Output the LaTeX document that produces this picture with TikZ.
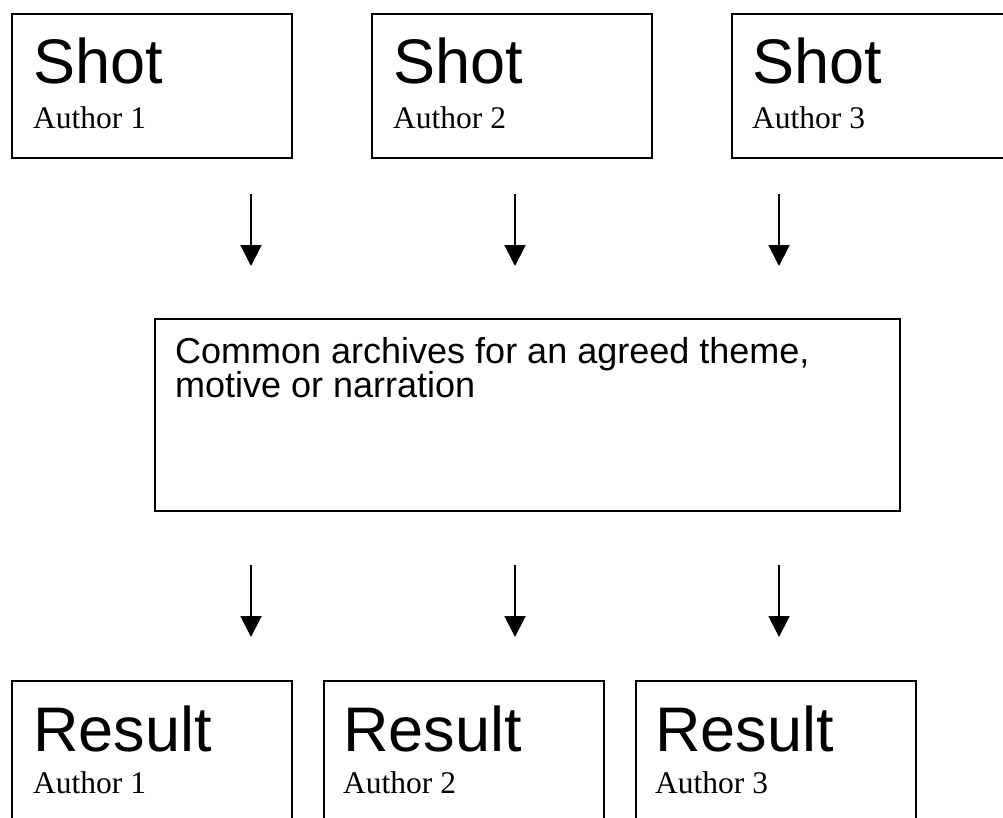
\documentclass[tikz,border=0pt]{standalone}
\usepackage{fontspec}
\setmainfont{Liberation Serif}
\newfontfamily\arialfont{Liberation Sans}
\usetikzlibrary{arrows.meta}
\tikzset{
  box/.style={draw=black, line width=2pt, anchor=north west, inner sep=0pt},
  big/.style={anchor=base west, inner sep=0pt, font=\arialfont\fontsize{63}{70}\selectfont},
  small/.style={anchor=base west, inner sep=0pt, font=\fontsize{31.5}{36}\selectfont},
  mid/.style={anchor=base west, inner sep=0pt, align=left, font=\arialfont\fontsize{36}{34}\selectfont},
  arr/.style={line width=2pt, -{Triangle[width=21pt,length=21pt]}}
}
\begin{document}
\begin{tikzpicture}[x=1pt,y=-1pt]
\useasboundingbox (0,0) rectangle (1003,817);
\clip (0,0) rectangle (1003,817);
% top boxes
\node[box, minimum width=280pt, minimum height=144pt] (s1) at (11,13) {};
\node[box, minimum width=280pt, minimum height=144pt] (s2) at (371,13) {};
\node[box, minimum width=280pt, minimum height=144pt] (s3) at (731,13) {};
\node[big] (s1t) at (33,83) {Shot};
\node[small] (s1a) at (33,128) {Author 1};
\node[big] (s2t) at (393,83) {Shot};
\node[small] (s2a) at (393,128) {Author 2};
\node[big] (s3t) at (752,83) {Shot};
\node[small] (s3a) at (752,128) {Author 3};
% middle box
\node[box, minimum width=745pt, minimum height=192pt] (m) at (154,318) {};
\node[mid] (mt) at (175,397) {Common archives for an agreed theme,\\motive or narration};
% bottom boxes
\node[box, minimum width=280pt, minimum height=160pt] (r1) at (11,680) {};
\node[box, minimum width=280pt, minimum height=160pt] (r2) at (323,680) {};
\node[box, minimum width=280pt, minimum height=160pt] (r3) at (635,680) {};
\node[big] (r1t) at (33,751) {Result};
\node[small] (r1a) at (33,793) {Author 1};
\node[big] (r2t) at (343,751) {Result};
\node[small] (r2a) at (343,793) {Author 2};
\node[big] (r3t) at (655,751) {Result};
\node[small] (r3a) at (655,793) {Author 3};
% arrow coordinates
\coordinate (a1s) at (251,194); \coordinate (a1e) at (251,266);
\coordinate (a2s) at (515,194); \coordinate (a2e) at (515,266);
\coordinate (a3s) at (779,194); \coordinate (a3e) at (779,266);
\coordinate (b1s) at (251,565); \coordinate (b1e) at (251,637);
\coordinate (b2s) at (515,565); \coordinate (b2e) at (515,637);
\coordinate (b3s) at (779,565); \coordinate (b3e) at (779,637);
\draw[arr] (a1s) -- (a1e);
\draw[arr] (a2s) -- (a2e);
\draw[arr] (a3s) -- (a3e);
\draw[arr] (b1s) -- (b1e);
\draw[arr] (b2s) -- (b2e);
\draw[arr] (b3s) -- (b3e);
\end{tikzpicture}
\end{document}
